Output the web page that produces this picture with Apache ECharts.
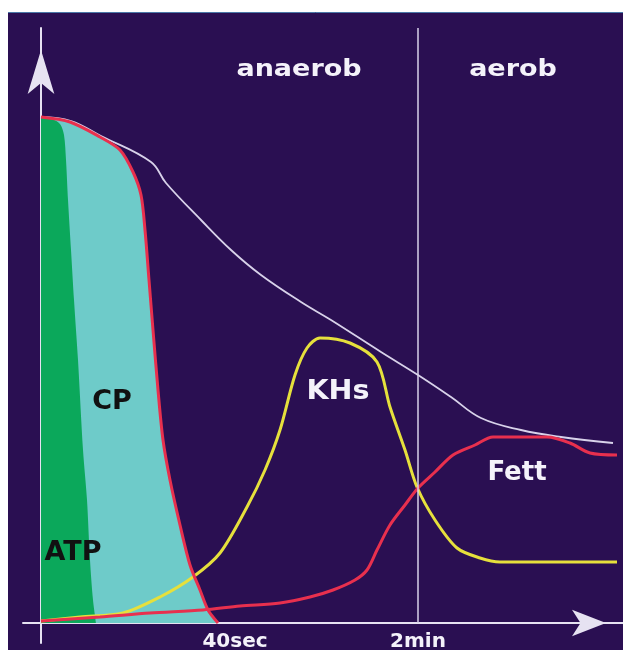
<!DOCTYPE html>
<html>
<head>
<meta charset="utf-8">
<script src="https://cdn.jsdelivr.net/npm/echarts@6/dist/echarts.min.js"></script>
<style>
  html, body { margin: 0; padding: 0; background: #ffffff; }
  #chart { width: 623px; height: 650px; }
</style>
</head>
<body>
<div id="chart"></div>
<script>
// x: time (arbitrary units, 0 = start), y: energy contribution
var totalX = [0, 6, 12, 22, 25, 32, 38, 44, 52, 58, 68, 75.4, 82, 88, 96, 104, 114.4];
var totalY = [101.2, 100.4, 97.4, 92.2, 88, 80.6, 74.6, 69.6, 64.2, 60.6, 54.2, 49.6, 45.2, 41, 38.6, 37.2, 36];

var cpX = [0, 5.8, 11.8, 15.8, 18.4, 20, 20.8, 21.6, 22.4, 23.4, 24.4, 25.8, 27.8, 29.8, 31.8, 33.4, 35.4];
var cpY = [101.2, 100.2, 97.2, 94.6, 90.2, 85.6, 78.6, 68.6, 58.6, 46.6, 36.6, 28.6, 19.6, 11.6, 6.6, 2.6, 0];

var atpX = [0, 2.2, 3.8, 4.6, 5, 5.4, 6, 6.6, 7.4, 8.4, 9.2, 9.8, 10.4, 11];
var atpY = [101.2, 100.8, 99.8, 97.6, 92.6, 84.6, 74.6, 64.6, 52.6, 34.6, 24.6, 12.6, 4.6, 0];

var khX = [0, 7.8, 16.4, 23.8, 30.4, 35.8, 41.2, 44.8, 47.8, 50.8, 53.2, 55.8, 61.8, 67.2, 69.8, 72.8, 75.2, 78.8, 83.2, 87.8, 91.8, 115.2];
var khY = [0.4, 1.2, 2, 5.2, 9.2, 14, 23.2, 30.6, 38.6, 49.6, 55, 57, 56, 52.2, 43.2, 34.6, 27.2, 20.6, 15, 13, 12.2, 12.2];

var fatX = [0, 11.8, 21.8, 32.4, 39.8, 47.8, 53.8, 58.4, 62.8, 65.2, 67.2, 69.8, 72.8, 75.4, 78.8, 82.4, 86.8, 90.4, 101.2, 105.8, 109.8, 115.2];
var fatY = [0.4, 1.2, 2, 2.6, 3.4, 4, 5.2, 6.6, 8.6, 10.6, 14.6, 19.6, 23.6, 27, 30.2, 33.6, 35.6, 37.2, 37.2, 36, 34, 33.6];

var tickValues = [38.8, 75.4];
var tickLabels = ['40sec', '2min'];
var phaseBorder = 75.4;

function pairs(xs, ys) {
    return xs.map(function(x, i) { return [x, ys[i]]; });
}

var myChart = echarts.init(document.getElementById('chart'));

var font = 'DejaVu Sans';

function label(text, x, y, size, color, sx, sy) {
    return {
        type: 'text', x: x, y: y, z: 100, silent: true,
        scaleX: sx || 1, scaleY: sy || 1,
        style: {
            text: text, x: 0, y: 0, fill: color,
            font: 'bold ' + size + 'px "' + font + '"',
            align: 'center', verticalAlign: 'middle'
        }
    };
}

var option = {
    backgroundColor: 'transparent',
    animation: false,
    grid: { left: 23, right: 0, top: 28, bottom: 7, outerBoundsMode: 'none', containLabel: false },
    graphic: [
        { type: 'rect', z: -100, silent: true, shape: { x: 8, y: 12, width: 615, height: 638 }, style: { fill: '#2a0f52' } },
        { type: 'line', z: -99, silent: true, shape: { x1: 8, y1: 12.5, x2: 623, y2: 12.5 }, style: { stroke: '#4a78a8', lineWidth: 1 } },
        label('anaerob', 299, 70, 27, '#f4f2fa', 1, 0.82),
        label('aerob', 513, 70, 27, '#f4f2fa', 1, 0.82),
        label('KHs', 338, 392, 26, '#f4f2fa', 1.1, 1),
        label('Fett', 517, 473, 26, '#f4f2fa', 1, 1),
        label('CP', 112, 402, 27, '#111111', 1, 1),
        label('ATP', 73, 553, 27, '#111111', 1, 1)
    ],
    xAxis: {
        type: 'value',
        min: -3.6,
        max: 116.4,
        splitLine: { show: false },
        axisTick: { show: false },
        axisLabel: { show: false },
        axisLine: {
            onZero: true,
            lineStyle: { color: '#e6e2f2', width: 2 },
            symbol: ['none', 'arrow'],
            symbolSize: [20, 34],
            symbolOffset: [0, -17]
        }
    },
    yAxis: {
        type: 'value',
        min: -4,
        max: 119,
        splitLine: { show: false },
        axisTick: { show: false },
        axisLabel: { show: false },
        axisLine: {
            onZero: true,
            lineStyle: { color: '#e6e2f2', width: 2 },
            symbol: ['none', 'arrow'],
            symbolSize: [20, 44],
            symbolOffset: [0, -22]
        }
    },
    series: [
        {
            name: 'CP',
            type: 'line',
            z: 1,
            smooth: 0.3,
            showSymbol: false,
            lineStyle: { width: 0 },
            areaStyle: { color: '#6ecbc9', opacity: 1 },
            data: pairs(cpX, cpY)
        },
        {
            name: 'ATP',
            type: 'line',
            z: 2,
            smooth: 0.3,
            showSymbol: false,
            lineStyle: { width: 0 },
            areaStyle: { color: '#0ba85b', opacity: 1 },
            data: pairs(atpX, atpY)
        },
        {
            name: 'Gesamt',
            type: 'line',
            z: 3,
            smooth: 0.4,
            showSymbol: false,
            lineStyle: { color: '#d8d2ea', width: 1.8 },
            data: pairs(totalX, totalY),
            markLine: {
                silent: true,
                symbol: 'none',
                label: { show: false },
                lineStyle: { color: '#d8d2ea', width: 1.5, type: 'solid' },
                data: [[{ coord: [phaseBorder, 0] }, { coord: [phaseBorder, 119] }]]
            }
        },
        {
            name: 'KHs',
            type: 'line',
            z: 4,
            smooth: 0.3,
            showSymbol: false,
            lineStyle: { color: '#e6e03c', width: 3 },
            data: pairs(khX, khY)
        },
        {
            name: 'Fett',
            type: 'line',
            z: 4,
            smooth: 0.3,
            showSymbol: false,
            lineStyle: { color: '#e8304e', width: 3 },
            data: pairs(fatX, fatY)
        },
        {
            name: 'CP-Grenze',
            type: 'line',
            z: 5,
            smooth: 0.3,
            showSymbol: false,
            lineStyle: { color: '#e8304e', width: 3 },
            data: pairs(cpX, cpY)
        }
    ]
};

myChart.setOption(option);

// tick labels under the x axis, placed through the axis scale
var tickTexts = tickValues.map(function(v, i) {
    var p = myChart.convertToPixel({ gridIndex: 0 }, [v, 0]);
    return {
        type: 'text', x: p[0], y: p[1] + 19, z: 100, silent: true,
        style: {
            text: tickLabels[i], x: 0, y: 0, fill: '#f4f2fa',
            font: 'bold 20px "' + font + '"',
            align: 'center', verticalAlign: 'middle'
        }
    };
});
myChart.setOption({ graphic: option.graphic.concat(tickTexts) });

window.addEventListener('resize', function() {
    myChart.resize();
});
</script>
</body>
</html>
